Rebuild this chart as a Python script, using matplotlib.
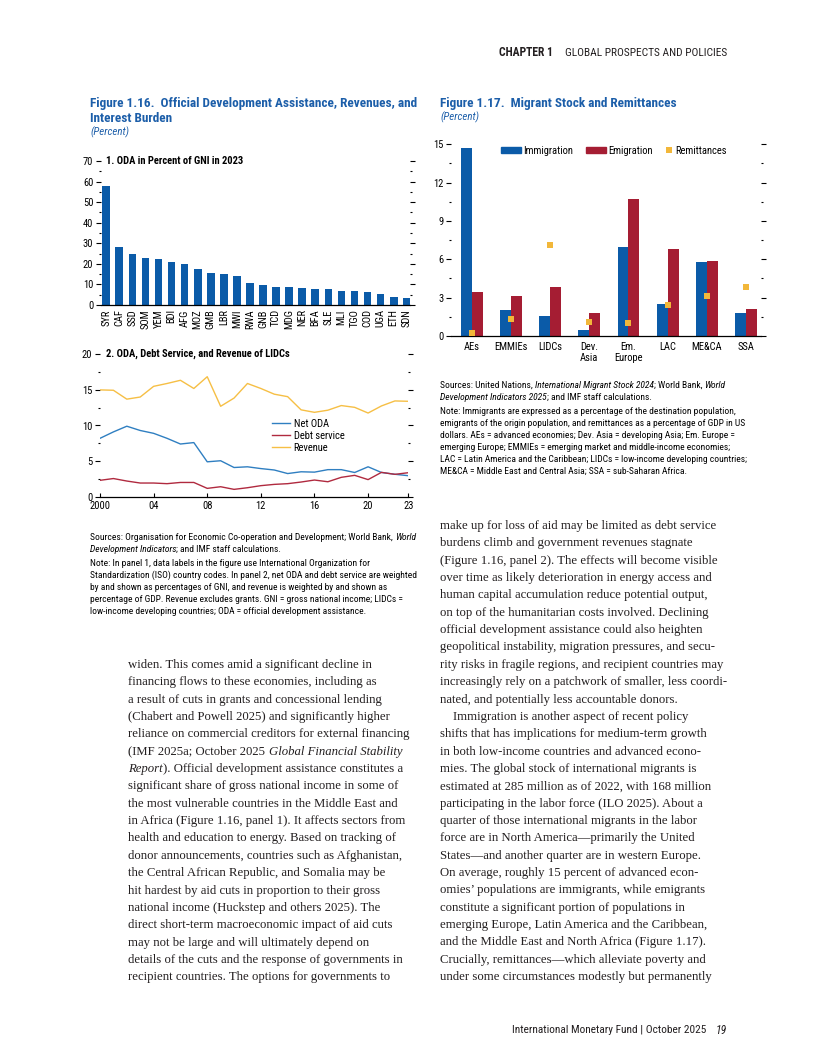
# Figure 1.16 / 1.17 page: ODA, revenues, migrant stock and remittances

import numpy as np
import matplotlib
matplotlib.use('Agg')
import matplotlib.pyplot as plt
from matplotlib.ticker import MultipleLocator, FixedLocator
from matplotlib.lines import Line2D
from matplotlib.patches import Patch

# =========================
# THEME SETTINGS
# =========================
W, H = 816, 1056
SANS = ['Liberation Sans Narrow', 'Roboto Condensed', 'DejaVu Sans']
SERIF = ['Liberation Serif', 'DejaVu Serif']
plt.rcParams['font.family'] = SANS

BAR_BLUE = '#0b5ba8'
BAR_RED = '#a51d33'
SQ_YELLOW = '#f2b73a'
LINE_BLUE = '#2f7fc1'
LINE_RED = '#b02a3f'
LINE_YELLOW = '#f6bf45'
TITLE_BLUE = '#1c5ea9'

TICK_SIZE = 7.6
NOTE_SIZE = 6.8
BODY_SIZE = 9.2
TITLE_SIZE = 9.5

# =========================
# DATA
# =========================
countries = ['SYR', 'CAF', 'SSD', 'SOM', 'YEM', 'BDI', 'AFG', 'MOZ', 'GMB', 'LBR',
             'MWI', 'RWA', 'GNB', 'TCD', 'MDG', 'NER', 'BFA', 'SLE', 'MLI', 'TGO',
             'COD', 'UGA', 'ETH', 'SDN']
oda_gni = [57.9, 28.4, 24.8, 22.8, 22.4, 20.9, 19.9, 17.5, 15.6, 15.1,
           14.1, 10.9, 9.7, 8.8, 8.8, 8.3, 7.8, 7.8, 6.8, 6.8,
           6.3, 5.3, 3.9, 3.4]

years = list(range(2000, 2024))
net_oda = [8.2, 9.1, 9.9, 9.3, 8.9, 8.2, 7.4, 7.6, 4.9, 5.05, 4.1, 4.2,
           3.95, 3.75, 3.25, 3.5, 3.45, 3.8, 3.8, 3.4, 4.2, 3.4, 3.15, 2.95]
debt_service = [2.3, 2.55, 2.2, 1.92, 1.92, 1.83, 2.0, 2.0, 1.17, 1.4, 1.03, 1.26,
                1.55, 1.73, 1.83, 2.06, 2.34, 2.1, 2.72, 3.0, 2.4, 3.42, 3.14, 3.37]
revenue = [15.0, 14.95, 13.7, 14.0, 15.5, 15.9, 16.35, 15.2, 16.85, 12.7, 13.85, 15.9,
           15.2, 14.4, 14.05, 12.2, 11.85, 12.15, 12.8, 12.55, 11.75, 12.75, 13.45, 13.4]
year_ticks = [2000, 2004, 2008, 2012, 2016, 2020, 2023]
year_labels = ['2000', '04', '08', '12', '16', '20', '23']

regions = ['AEs', 'EMMIEs', 'LIDCs', 'Dev.\nAsia', 'Em.\nEurope', 'LAC', 'ME&CA', 'SSA']
immigration = [14.7, 2.05, 1.6, 0.47, 7.0, 2.5, 5.8, 1.8]
emigration = [3.45, 3.13, 3.85, 1.8, 10.75, 6.8, 5.88, 2.12]
remittances = [0.2, 1.3, 7.1, 1.07, 1.02, 2.4, 3.1, 3.82]

fig = plt.figure(figsize=(W / 100, H / 100), dpi=100)
fig.patch.set_facecolor('white')
renderer = fig.canvas.get_renderer()


def px_axes(x0, y0, x1, y1):
    return fig.add_axes([x0 / W, 1 - y1 / H, (x1 - x0) / W, (y1 - y0) / H])


def fx(x):
    return x / W


def fy(y):
    return 1 - y / H


def text_width(s, **kw):
    t = fig.text(0, 0, '|' + s + '|', **kw)
    t0 = fig.text(0, 0, '||', **kw)
    w = t.get_window_extent(renderer).width - t0.get_window_extent(renderer).width
    t.remove()
    t0.remove()
    return w


def rich_line(x, y, line, family, size, color='black', weight='normal'):
    # underscores toggle italic
    parts = line.split('_')
    for k, part in enumerate(parts):
        if not part:
            continue
        style = 'italic' if k % 2 else 'normal'
        fig.text(fx(x), fy(y), part, family=family, size=size, style=style,
                 weight=weight, color=color, va='baseline', ha='left')
        x += text_width(part, family=family, size=size, style=style, weight=weight)


def style_axis(ax, major, minor):
    for s in ['top', 'left', 'right']:
        ax.spines[s].set_visible(False)
    ax.spines['bottom'].set_color('black')
    ax.spines['bottom'].set_linewidth(0.9)
    ax.yaxis.set_major_locator(MultipleLocator(major))
    ax.yaxis.set_minor_locator(MultipleLocator(minor))
    ax.tick_params(axis='y', which='both', left=True, right=True, labelleft=True,
                   direction='out', colors='black', labelsize=TICK_SIZE)
    ax.tick_params(axis='y', which='major', length=3.5, width=0.8, pad=2)
    ax.tick_params(axis='y', which='minor', length=1.2, width=0.8)
    ax.set_facecolor('none')


# =========================
# HEADER / FOOTER
# =========================
fig.text(fx(727), fy(53), 'GLOBAL PROSPECTS AND POLICIES', ha='right', va='center',
         size=8.2, color='#231f20')
fig.text(fx(553), fy(53), 'CHAPTER 1', ha='right', va='center', size=8.4,
         weight='bold', color='#231f20')
fig.text(fx(706), fy(1030), 'International Monetary Fund | October 2025', ha='right',
         va='center', size=8.2, color='#231f20')
fig.text(fx(727), fy(1030), '19', ha='right', va='center', size=8.4, style='italic',
         color='#231f20')

# =========================
# FIGURE 1.16 TITLES
# =========================
fig.text(fx(90), fy(103), 'Figure 1.16.  Official Development Assistance, Revenues, and',
         ha='left', va='center', size=TITLE_SIZE, weight='bold', color=TITLE_BLUE)
fig.text(fx(90), fy(119), 'Interest Burden', ha='left', va='center', size=TITLE_SIZE,
         weight='bold', color=TITLE_BLUE)
fig.text(fx(90), fy(132), '(Percent)', ha='left', va='center', size=7.8,
         style='italic', color=TITLE_BLUE)

# Panel 1: ODA in percent of GNI
ax1 = px_axes(101, 161, 409.5, 305)
x1 = np.arange(len(countries))
ax1.bar(x1, oda_gni, width=0.59, color=BAR_BLUE, zorder=2)
ax1.set_xlim(-0.4, len(countries) - 0.79)
ax1.set_ylim(0, 70)
style_axis(ax1, 10, 5)
ax1.set_xticks(x1)
ax1.set_xticklabels(countries, rotation=90, fontsize=TICK_SIZE)
ax1.tick_params(axis='x', length=0, pad=3)
fig.text(fx(106.5), fy(161), '1. ODA in Percent of GNI in 2023', ha='left', va='center',
         size=7.6, weight='bold')

# Panel 2: ODA, debt service, revenue
ax2 = px_axes(100, 354.3, 408.3, 496.7)
l_oda, = ax2.plot(years, net_oda, color=LINE_BLUE, lw=1.0, label='Net ODA')
l_debt, = ax2.plot(years, debt_service, color=LINE_RED, lw=1.0, label='Debt service')
l_rev, = ax2.plot(years, revenue, color=LINE_YELLOW, lw=1.0, label='Revenue')
ax2.set_xlim(2000, 2023)
ax2.set_ylim(0, 20)
style_axis(ax2, 5, 2.5)
ax2.xaxis.set_major_locator(FixedLocator(year_ticks))
ax2.set_xticklabels(year_labels, fontsize=TICK_SIZE)
ax2.tick_params(axis='x', direction='in', length=3, width=0.8, pad=3)
fig.text(fx(106.5), fy(354.3), '2. ODA, Debt Service, and Revenue of LIDCs', ha='left',
         va='center', size=7.6, weight='bold')
fig.legend(handles=[l_oda, l_debt, l_rev], loc='center left',
           bbox_to_anchor=(fx(271.5), fy(436)), frameon=False, fontsize=TICK_SIZE,
           handlelength=1.75, handletextpad=0.35, labelspacing=0.18, borderpad=0,
           borderaxespad=0)

# Notes 1.16
notes_116 = [
    (537, 'Sources: Organisation for Economic Co-operation and Development; World Bank, _World_'),
    (549, '_Development Indicators_; and IMF staff calculations.'),
    (563, 'Note: In panel 1, data labels in the figure use International Organization for'),
    (575, 'Standardization (ISO) country codes. In panel 2, net ODA and debt service are weighted'),
    (587, 'by and shown as percentages of GNI, and revenue is weighted by and shown as'),
    (599, 'percentage of GDP. Revenue excludes grants. GNI = gross national income; LIDCs ='),
    (611, 'low-income developing countries; ODA = official development assistance.'),
]
for y, line in notes_116:
    rich_line(90, y + 3, line, SANS, NOTE_SIZE)

# =========================
# FIGURE 1.17
# =========================
fig.text(fx(440), fy(103), 'Figure 1.17.  Migrant Stock and Remittances', ha='left',
         va='center', size=TITLE_SIZE, weight='bold', color=TITLE_BLUE)
fig.text(fx(440), fy(117), '(Percent)', ha='left', va='center', size=7.8,
         style='italic', color=TITLE_BLUE)

ax3 = px_axes(451, 144.3, 761, 336)
x3 = np.arange(len(regions))
ax3.bar(x3 - 0.14, immigration, width=0.28, color=BAR_BLUE, zorder=2)
ax3.bar(x3 + 0.14, emigration, width=0.28, color=BAR_RED, zorder=2)
ax3.plot(x3, remittances, linestyle='none', marker='s', markersize=3.7,
         color=SQ_YELLOW, markeredgewidth=0, zorder=3)
ax3.set_xlim(-0.54, len(regions) - 0.61)
ax3.set_ylim(0, 15)
style_axis(ax3, 3, 1.5)
ax3.set_xticks(x3)
ax3.set_xticklabels(regions, fontsize=TICK_SIZE, linespacing=1.15)
ax3.tick_params(axis='x', length=0, pad=4)

fig.legend(handles=[Patch(color=BAR_BLUE, label='Immigration')], loc='center left',
           bbox_to_anchor=(fx(501), fy(150.7)), frameon=False, fontsize=TICK_SIZE,
           handlelength=1.9, handleheight=0.45, handletextpad=0.2, borderpad=0,
           borderaxespad=0)
fig.legend(handles=[Patch(color=BAR_RED, label='Emigration')], loc='center left',
           bbox_to_anchor=(fx(585.7), fy(150.7)), frameon=False, fontsize=TICK_SIZE,
           handlelength=1.9, handleheight=0.45, handletextpad=0.2, borderpad=0,
           borderaxespad=0)
fig.legend(handles=[Line2D([], [], linestyle='none', marker='s', markersize=3.7,
                           color=SQ_YELLOW, markeredgewidth=0, label='Remittances')],
           loc='center left', bbox_to_anchor=(fx(665.5), fy(150.7)), frameon=False,
           fontsize=TICK_SIZE, handlelength=0.6, handletextpad=0.3, borderpad=0,
           borderaxespad=0)

notes_117 = [
    (385, 'Sources: United Nations, _International Migrant Stock 2024_; World Bank, _World_'),
    (397, '_Development Indicators 2025_; and IMF staff calculations.'),
    (411, 'Note: Immigrants are expressed as a percentage of the destination population,'),
    (423, 'emigrants of the origin population, and remittances as a percentage of GDP in US'),
    (435, 'dollars. AEs = advanced economies; Dev. Asia = developing Asia; Em. Europe ='),
    (447, 'emerging Europe; EMMIEs = emerging market and middle-income economies;'),
    (459, 'LAC = Latin America and the Caribbean; LIDCs = low-income developing countries;'),
    (471, 'ME&CA = Middle East and Central Asia; SSA = sub-Saharan Africa.'),
]
for y, line in notes_117:
    rich_line(440, y + 3, line, SANS, NOTE_SIZE)

# =========================
# BODY TEXT
# =========================
left_col = [
    'widen. This comes amid a significant decline in',
    'financing flows to these economies, including as',
    'a result of cuts in grants and concessional lending',
    '(Chabert and Powell 2025) and significantly higher',
    'reliance on commercial creditors for external financing',
    '(IMF 2025a; October 2025 _Global Financial Stability_',
    '_Report_). Official development assistance constitutes a',
    'significant share of gross national income in some of',
    'the most vulnerable countries in the Middle East and',
    'in Africa (Figure 1.16, panel 1). It affects sectors from',
    'health and education to energy. Based on tracking of',
    'donor announcements, countries such as Afghanistan,',
    'the Central African Republic, and Somalia may be',
    'hit hardest by aid cuts in proportion to their gross',
    'national income (Huckstep and others 2025). The',
    'direct short-term macroeconomic impact of aid cuts',
    'may not be large and will ultimately depend on',
    'details of the cuts and the response of governments in',
    'recipient countries. The options for governments to',
]
right_col = [
    'make up for loss of aid may be limited as debt service',
    'burdens climb and government revenues stagnate',
    '(Figure 1.16, panel 2). The effects will become visible',
    'over time as likely deterioration in energy access and',
    'human capital accumulation reduce potential output,',
    'on top of the humanitarian costs involved. Declining',
    'official development assistance could also heighten',
    'geopolitical instability, migration pressures, and secu-',
    'rity risks in fragile regions, and recipient countries may',
    'increasingly rely on a patchwork of smaller, less coordi-',
    'nated, and potentially less accountable donors.',
    'Immigration is another aspect of recent policy',
    'shifts that has implications for medium-term growth',
    'in both low-income countries and advanced econo-',
    'mies. The global stock of international migrants is',
    'estimated at 285 million as of 2022, with 168 million',
    'participating in the labor force (ILO 2025). About a',
    'quarter of those international migrants in the labor',
    'force are in North America\u2014primarily the United',
    'States\u2014and another quarter are in western Europe.',
    'On average, roughly 15 percent of advanced econ-',
    'omies\u2019 populations are immigrants, while emigrants',
    'constitute a significant portion of populations in',
    'emerging Europe, Latin America and the Caribbean,',
    'and the Middle East and North Africa (Figure 1.17).',
    'Crucially, remittances\u2014which alleviate poverty and',
    'under some circumstances modestly but permanently',
]
LINE_STEP = 17.35
for i, line in enumerate(left_col):
    rich_line(128.5, 664 + i * LINE_STEP + 4, line, SERIF, BODY_SIZE, color='#231f20')
for i, line in enumerate(right_col):
    x = 453 if line.startswith('Immigration is') else 440
    rich_line(x, 525 + i * LINE_STEP + 4, line, SERIF, BODY_SIZE, color='#231f20')

plt.savefig('out.png', dpi=100, facecolor='white')
